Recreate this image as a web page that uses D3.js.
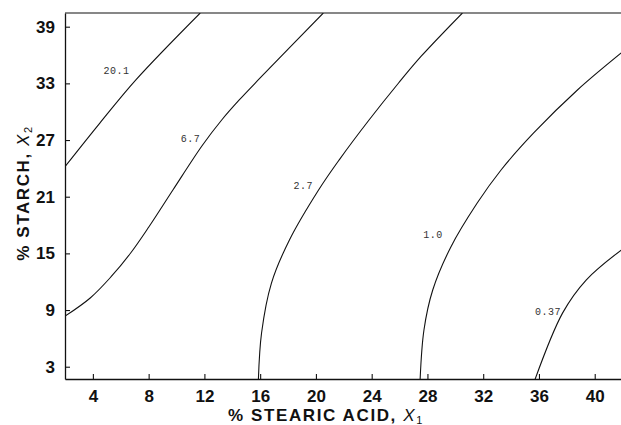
<!DOCTYPE html>
<html>
<head>
<meta charset="utf-8">
<script src="https://cdn.jsdelivr.net/npm/d3@7"></script>
<style>
  html, body { margin: 0; padding: 0; background: #fff; }
  svg { display: block; }
</style>
</head>
<body>
<svg id="chart" width="621" height="425"></svg>
<script>
// ---- data ----
const xTicks = [4, 8, 12, 16, 20, 24, 28, 32, 36, 40];
const yTicks = [3, 9, 15, 21, 27, 33, 39];

const levels = ["20.1", "6.7", "2.7", "1.0", "0.37"];

const contour20_1 = [[1.9, 24.0], [4.5, 28.8], [7.1, 33.4], [11.7, 40.45]];
const contour6_7 = [[1.9, 8.25], [3.81, 10.28], [5.29, 12.5], [6.71, 15.04], [8.01, 17.79],
                    [9.74, 21.71], [11.82, 26.37], [13.24, 29.12], [14.5, 31.24], [16.0, 33.57], [20.53, 40.45]];
const contour2_7 = [[15.87, 1.5], [16.1, 6.57], [16.81, 11.86], [18.1, 16.42], [20.19, 21.71],
                    [21.66, 24.88], [23.81, 29.12], [25.93, 33.04], [27.57, 35.9], [30.51, 40.45]];
const contour1_0 = [[27.47, 1.5], [27.75, 6.89], [28.38, 11.12], [29.68, 15.68], [31.57, 20.33],
                    [33.28, 23.83], [35.62, 27.75], [38.76, 32.3], [41.9, 36.22]];
const contour0_37 = [[35.68, 1.5], [37.7, 8.7], [39.4, 12.2], [41.9, 15.35]];

const contours = [contour20_1, contour6_7, contour2_7, contour1_0, contour0_37];

// contour label anchors (data units)
const labelX = [5.7, 11.0, 19.1, 28.4, 36.65];
const labelY = [34.3, 27.1, 22.1, 16.9, 8.7];

// ---- drawing ----
const svg = d3.select("#chart");
const x = d3.scaleLinear().domain([2, 42]).range([65, 622.6]);
const y = d3.scaleLinear().domain([1.7, 40.45]).range([379, 13]);

svg.append("defs").append("clipPath").attr("id", "plotClip")
  .append("rect")
  .attr("x", x(2)).attr("y", y(40.45))
  .attr("width", x(42) - x(2)).attr("height", y(1.7) - y(40.45));

// frame: top line
svg.append("line")
  .attr("x1", x(2)).attr("x2", x(42))
  .attr("y1", y(40.45)).attr("y2", y(40.45))
  .attr("stroke", "#111").attr("stroke-width", 1.2);

// bottom axis
const xAxis = svg.append("g")
  .attr("transform", `translate(0,${y(1.7)})`)
  .call(d3.axisBottom(x).tickValues(xTicks).tickSizeInner(-5).tickSizeOuter(0).tickPadding(10.5));
// left axis
const yAxis = svg.append("g")
  .attr("transform", `translate(${x(2)},0)`)
  .call(d3.axisLeft(y).tickValues(yTicks).tickSizeInner(-5).tickSizeOuter(0).tickPadding(10));

[xAxis, yAxis].forEach(g => {
  g.select(".domain").attr("stroke", "#111").attr("stroke-width", 1.3);
  g.selectAll(".tick line").attr("stroke", "#111").attr("stroke-width", 1.1);
  g.selectAll(".tick text")
    .attr("fill", "#111")
    .style("font-family", "'Liberation Sans', Arial, sans-serif")
    .style("font-size", "17px")
    .style("font-weight", "bold");
});

// contour lines
const line = d3.line()
  .x(d => x(d[0])).y(d => y(d[1]))
  .curve(d3.curveCatmullRom.alpha(0.5));

svg.append("g").attr("clip-path", "url(#plotClip)")
  .selectAll("path").data(contours).join("path")
  .attr("d", line)
  .attr("fill", "none")
  .attr("stroke", "#111")
  .attr("stroke-width", 1.1);

// contour labels
svg.append("g").selectAll("text").data(levels).join("text")
  .attr("x", (d, i) => x(labelX[i]))
  .attr("y", (d, i) => y(labelY[i]))
  .attr("text-anchor", "middle")
  .attr("dominant-baseline", "central")
  .attr("fill", "#333")
  .style("font-family", "'Liberation Mono', 'DejaVu Sans Mono', monospace")
  .style("font-size", "10px")
  .style("letter-spacing", "0.5px")
  .text(d => d);

// axis titles
const titleFont = "'Liberation Sans', Arial, sans-serif";
const xt = svg.append("text")
  .attr("x", 326).attr("y", 420.5)
  .attr("text-anchor", "middle")
  .attr("fill", "#111")
  .style("font-family", titleFont)
  .style("font-size", "17px")
  .style("font-weight", "bold")
  .style("letter-spacing", "1.6px");
xt.append("tspan").text("% STEARIC ACID, ");
xt.append("tspan").style("font-style", "italic").style("font-weight", "normal").text("X");
xt.append("tspan").attr("dy", 3).style("font-size", "11px").style("font-weight", "normal").text("1");

const yt = svg.append("text")
  .attr("transform", "translate(29,193) rotate(-90)")
  .attr("text-anchor", "middle")
  .attr("fill", "#111")
  .style("font-family", titleFont)
  .style("font-size", "17px")
  .style("font-weight", "bold")
  .style("letter-spacing", "1.6px");
yt.append("tspan").text("% STARCH, ");
yt.append("tspan").style("font-style", "italic").style("font-weight", "normal").text("X");
yt.append("tspan").attr("dy", 3).style("font-size", "11px").style("font-weight", "normal").text("2");
</script>
</body>
</html>
